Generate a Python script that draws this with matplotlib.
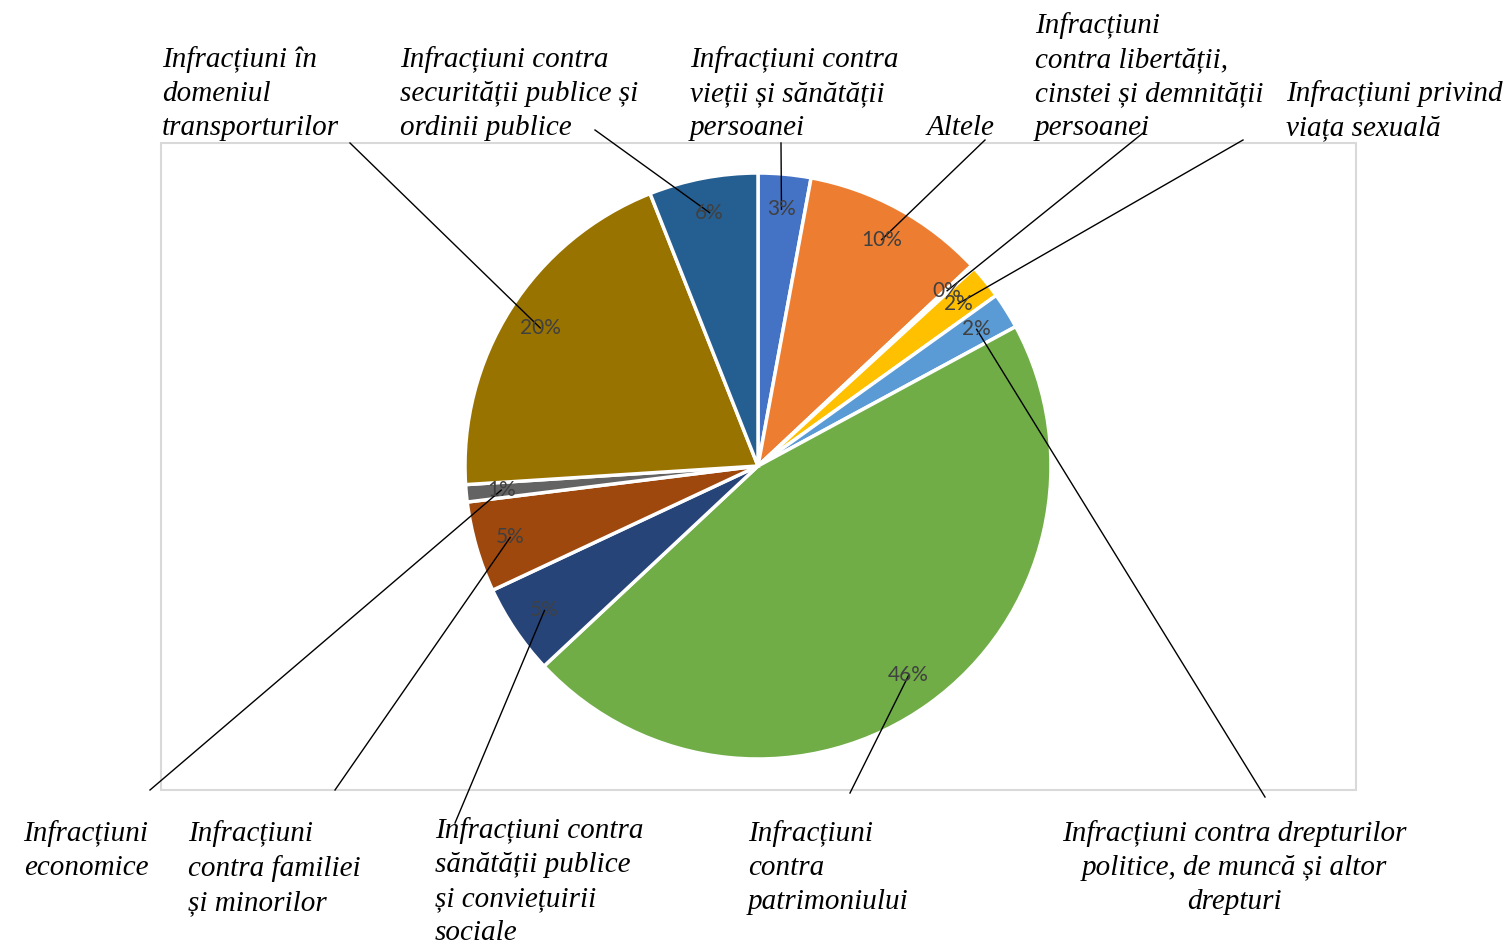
import numpy as np
import matplotlib.pyplot as plt
from matplotlib.patches import Rectangle

# share of offences (percent), clockwise from 12 o'clock
categories = [
    "Infracțiuni contra\nvieții și sănătății\npersoanei",
    "Altele",
    "Infracțiuni\ncontra libertății,\ncinstei și demnității\npersoanei",
    "Infracțiuni privind\nviața sexuală",
    "Infracțiuni contra drepturilor\npolitice, de muncă și altor\ndrepturi",
    "Infracțiuni\ncontra\npatrimoniului",
    "Infracțiuni contra\nsănătății publice\nși conviețuirii\nsociale",
    "Infracțiuni\ncontra familiei\nși minorilor",
    "Infracțiuni\neconomice",
    "Infracțiuni în\ndomeniul\ntransporturilor",
    "Infracțiuni contra\nsecurității publice și\nordinii publice",
]
values = [2.9, 10.1, 0.2, 1.9, 2.0, 45.9, 5.0, 5.0, 0.95, 20.0, 6.0]
colors = ["#4472C4", "#ED7D31", "#A5A5A5", "#FFC000", "#5B9BD5", "#70AD47",
          "#264478", "#9E480E", "#636363", "#997300", "#255E91"]

H = 946
def Y(y):
    return H - y

# label text anchor (pixel coords, top-left origin), alignment, leader start
label_pos = [
    (690, 94, "left"), (927, 128, "left"), (1035, 77, "left"), (1286, 111, "left"),
    (1234, 868, "center"), (748, 868, "left"), (435, 882, "left"), (188, 868, "left"),
    (86, 851, "center"), (162, 94, "left"), (400, 94, "left"),
]
leader_start = [
    (781, 143), (985, 140), (1143, 133), (1243, 140), (1265, 797), (850, 793),
    (455, 823), (335, 790), (150, 790), (350, 143), (595, 130),
]

fig = plt.figure(figsize=(15.1, 9.46), dpi=100)
ax = fig.add_axes([0, 0, 1, 1])

# plot area border
ax.add_patch(Rectangle((161, Y(790)), 1356 - 161, 790 - 143, fill=False,
                       edgecolor="#D9D9D9", linewidth=1.5))

wedges, texts, autotexts = ax.pie(
    values, colors=colors, startangle=90, counterclock=False,
    center=(758, Y(466)), radius=293, frame=True,
    autopct=lambda p: f"{p:.0f}%", pctdistance=0.88,
    wedgeprops=dict(edgecolor="white", linewidth=2.5),
    textprops=dict(color="#404040", fontsize=15, family="Lato"))
ax.set_xlim(0, 1510)
ax.set_ylim(0, H)
ax.axis("off")

for i, lab in enumerate(categories):
    x, y, ha = label_pos[i]
    ax.text(x, Y(y), lab, ha=ha, va="center", multialignment=ha,
            family="Liberation Serif", style="italic", fontsize=21,
            linespacing=1.4)
    sx, sy = leader_start[i]
    tx, ty = autotexts[i].get_position()
    ax.plot([sx, tx], [Y(sy), ty], color="black", linewidth=1)

fig.savefig("out.png", dpi=100)
